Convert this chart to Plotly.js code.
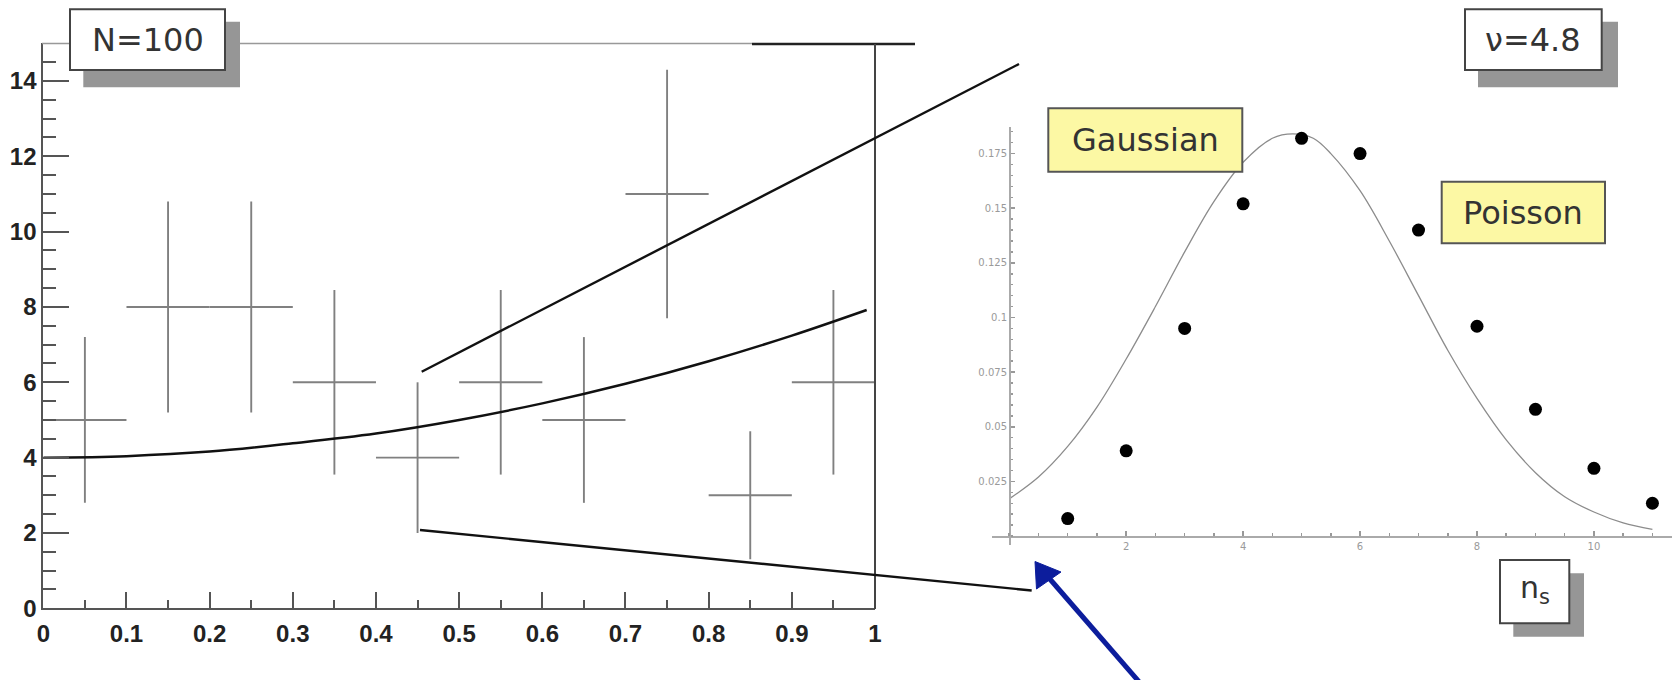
<!DOCTYPE html>
<html>
<head>
<meta charset="utf-8">
<script src="https://cdn.plot.ly/plotly-3.0.1.min.js"></script>
<style>
html,body{margin:0;padding:0;background:#fff;}
#chart{width:1673px;height:680px;}
</style>
</head>
<body>
<div id="chart"></div>
<script>
// ---- data: left histogram (N=100) ----
const binCenters = [0.05, 0.15, 0.25, 0.35, 0.45, 0.55, 0.65, 0.75, 0.85, 0.95];
const binCounts  = [5, 8, 8, 6, 4, 6, 5, 11, 3, 6];
const binErrors  = [2.2, 2.8, 2.8, 2.45, 2.0, 2.45, 2.2, 3.3, 1.7, 2.45];
const binHalfWidth = 0.05;

// fitted curve on left plot
const curveX = [0, 0.1, 0.2, 0.3, 0.4, 0.5, 0.6, 0.7, 0.8, 0.9, 0.99];
const curveY = [4.0, 4.04, 4.16, 4.38, 4.64, 5.0, 5.44, 5.96, 6.56, 7.24, 7.92];

// ---- data: inset (nu = 4.8) ----
const poissonN = [1, 2, 3, 4, 5, 6, 7, 8, 9, 10, 11];
const poissonP = [0.008, 0.039, 0.095, 0.152, 0.182, 0.175, 0.140, 0.096, 0.058, 0.031, 0.015];

const gaussX = [0, 0.5, 1, 1.5, 2, 2.5, 3, 3.5, 4, 4.5, 4.85, 5.2, 5.5, 6, 6.5, 7, 7.5, 8, 8.5, 9, 9.5, 10, 10.5, 11];
const gaussY = [0.017, 0.027, 0.041, 0.059, 0.081, 0.105, 0.130, 0.153, 0.171, 0.182, 0.184, 0.182, 0.175, 0.158, 0.135, 0.110, 0.085, 0.063, 0.044, 0.029, 0.018, 0.011, 0.006, 0.003];

// tick labels
const mainXTickVals = [0, 0.1, 0.2, 0.3, 0.4, 0.5, 0.6, 0.7, 0.8, 0.9, 1];
const mainXTickText = ['0', '0.1', '0.2', '0.3', '0.4', '0.5', '0.6', '0.7', '0.8', '0.9', '1'];
const mainYTickVals = [0, 2, 4, 6, 8, 10, 12, 14];
const insetXTickVals = [2, 4, 6, 8, 10];
const insetXTickText = ['2', '4', '6', '8', '10'];
const insetYTickVals = [0.025, 0.05, 0.075, 0.1, 0.125, 0.15, 0.175];
const insetYTickText = ['0.025', '0.05', '0.075', '0.1', '0.125', '0.15', '0.175'];

// ---- layout helpers (pixel -> paper) ----
const W = 1673, H = 680;
const px = v => v / W;
const py = v => 1 - v / H;

function rect(x0, y0, x1, y1, fill, line, lw) {
  return {type: 'rect', xref: 'paper', yref: 'paper', x0: px(x0), x1: px(x1), y0: py(y0), y1: py(y1),
          fillcolor: fill, line: {color: line || fill, width: lw || 0}, layer: 'above'};
}
function seg(x0, y0, x1, y1, color, w) {
  return {type: 'line', xref: 'paper', yref: 'paper', x0: px(x0), x1: px(x1), y0: py(y0), y1: py(y1),
          line: {color: color, width: w}, layer: 'above'};
}
function tri(pts, color) {
  const d = 'M ' + pts.map(p => px(p[0]) + ',' + py(p[1])).join(' L ') + ' Z';
  return {type: 'path', xref: 'paper', yref: 'paper', path: d, fillcolor: color, line: {color: color, width: 1}, layer: 'above'};
}
function label(text, cx, cy, size) {
  return {xref: 'paper', yref: 'paper', x: px(cx), y: py(cy), xanchor: 'center', yanchor: 'middle',
          text: text, showarrow: false, font: {family: 'DejaVu Sans', size: size, color: '#333'}};
}

const traces = [
  {
    x: binCenters, y: binCounts, type: 'scatter', mode: 'markers', xaxis: 'x', yaxis: 'y',
    marker: {size: 1, color: 'rgba(0,0,0,0)'},
    error_y: {type: 'data', array: binErrors, symmetric: true, thickness: 1.9, width: 0, color: '#808080'},
    error_x: {type: 'constant', value: binHalfWidth, thickness: 1.9, width: 0, color: '#808080'},
    showlegend: false
  },
  {
    x: curveX, y: curveY, type: 'scatter', mode: 'lines', xaxis: 'x', yaxis: 'y',
    line: {color: '#111', width: 2.5, shape: 'spline'}, showlegend: false
  },
  {
    x: gaussX, y: gaussY, type: 'scatter', mode: 'lines', xaxis: 'x2', yaxis: 'y2',
    line: {color: '#8c8c8c', width: 1.3, shape: 'spline'}, showlegend: false
  },
  {
    x: poissonN, y: poissonP, type: 'scatter', mode: 'markers', xaxis: 'x2', yaxis: 'y2',
    marker: {size: 13, color: '#000'}, showlegend: false
  }
];

const tickFontMain = {family: 'Liberation Sans', size: 24, color: '#222', weight: 'bold'};
const tickFontInset = {family: 'DejaVu Sans', size: 10, color: '#9a9a9a'};

const layout = {
  width: W, height: H,
  margin: {l: 0, r: 0, t: 0, b: 0},
  paper_bgcolor: '#fff', plot_bgcolor: 'rgba(0,0,0,0)',
  showlegend: false,
  xaxis: {
    domain: [px(43.3), px(875)], range: [0, 1], anchor: 'y',
    tickmode: 'array', tickvals: mainXTickVals, ticktext: mainXTickText,
    ticks: 'inside', ticklen: 16, tickwidth: 2, tickcolor: '#555',
    minor: {dtick: 0.05, tick0: 0, ticks: 'inside', ticklen: 8, tickwidth: 2, tickcolor: '#555', showgrid: false},
    showline: true, linecolor: '#555', linewidth: 2,
    showgrid: false, zeroline: false, tickfont: tickFontMain, automargin: false, ticklabelstandoff: 3
  },
  yaxis: {
    domain: [1 - 608.3 / H, 1 - 43.3 / H], range: [0, 15], anchor: 'x',
    tickmode: 'array', tickvals: mainYTickVals,
    ticks: 'inside', ticklen: 26, tickwidth: 2, tickcolor: '#555',
    minor: {dtick: 0.5, tick0: 0, ticks: 'inside', ticklen: 13, tickwidth: 2, tickcolor: '#555', showgrid: false},
    showline: true, linecolor: '#555', linewidth: 2,
    showgrid: false, zeroline: false, tickfont: tickFontMain, automargin: false
  },
  xaxis2: {
    domain: [px(991.7), px(1671.7)], range: [-0.3, 11.33], anchor: 'free', position: 1 - 536 / H,
    tickmode: 'array', tickvals: insetXTickVals, ticktext: insetXTickText,
    ticks: 'inside', ticklen: 5, tickwidth: 1.5, tickcolor: '#999',
    minor: {dtick: 0.5, tick0: 0, ticks: 'inside', ticklen: 3, tickwidth: 1.5, tickcolor: '#999', showgrid: false},
    showline: true, linecolor: '#aaa', linewidth: 1.5,
    showgrid: false, zeroline: false, tickfont: tickFontInset, automargin: false
  },
  yaxis2: {
    domain: [1 - 545 / H, 1 - 126.7 / H], range: [-0.0041, 0.1873], anchor: 'free', position: px(1009),
    tickmode: 'array', tickvals: insetYTickVals, ticktext: insetYTickText,
    ticks: 'inside', ticklen: 4, tickwidth: 1.5, tickcolor: '#999',
    minor: {dtick: 0.005, tick0: 0, ticks: 'inside', ticklen: 2, tickwidth: 1.5, tickcolor: '#999', showgrid: false},
    showline: true, linecolor: '#aaa', linewidth: 1.5,
    showgrid: false, zeroline: false, tickfont: tickFontInset, automargin: false
  },
  shapes: [
    // frame of the left plot (top + right)
    seg(42, 43.5, 752, 43.5, '#999', 1.6),
    seg(752, 44, 915, 44, '#222', 2.5),
    seg(875, 44, 875, 609, '#444', 2),
    // zoom lines to inset
    seg(421.7, 371.7, 1019, 64, '#111', 2.4),
    seg(420, 530, 1031.7, 590.5, '#111', 2.4),
    // N=100 box
    rect(83.3, 21.7, 240, 87.3, '#969696'),
    rect(70, 9.3, 225, 70, '#fff', '#444', 2),
    // nu box
    rect(1478, 21.7, 1618, 87.3, '#969696'),
    rect(1465, 9.3, 1601.7, 70, '#fff', '#444', 2),
    // Gaussian / Poisson labels
    rect(1048.3, 108.3, 1242.3, 171.7, '#fcf8a4', '#555', 2),
    rect(1441.7, 181.7, 1605, 243.3, '#fcf8a4', '#555', 2),
    // n_s box
    rect(1513.3, 573.3, 1584, 636.7, '#969696'),
    rect(1500, 560, 1569.3, 623.3, '#fff', '#444', 2),
    // blue arrow
    seg(1141, 684, 1049, 578, '#0c1d9c', 5),
    tri([[1035, 561.5], [1036.5, 589], [1061, 572]], '#0c1d9c')
  ],
  annotations: [
    label('N=100', 147.5, 39.7, 32),
    label('ν=4.8', 1533.3, 39.7, 32),
    label('Gaussian', 1145.3, 140, 32),
    label('Poisson', 1523.3, 212.5, 32),
    label('n<sub>s</sub>', 1534.7, 589, 30)
  ]
};

Plotly.newPlot('chart', traces, layout, {staticPlot: true, displayModeBar: false});
</script>
</body>
</html>
